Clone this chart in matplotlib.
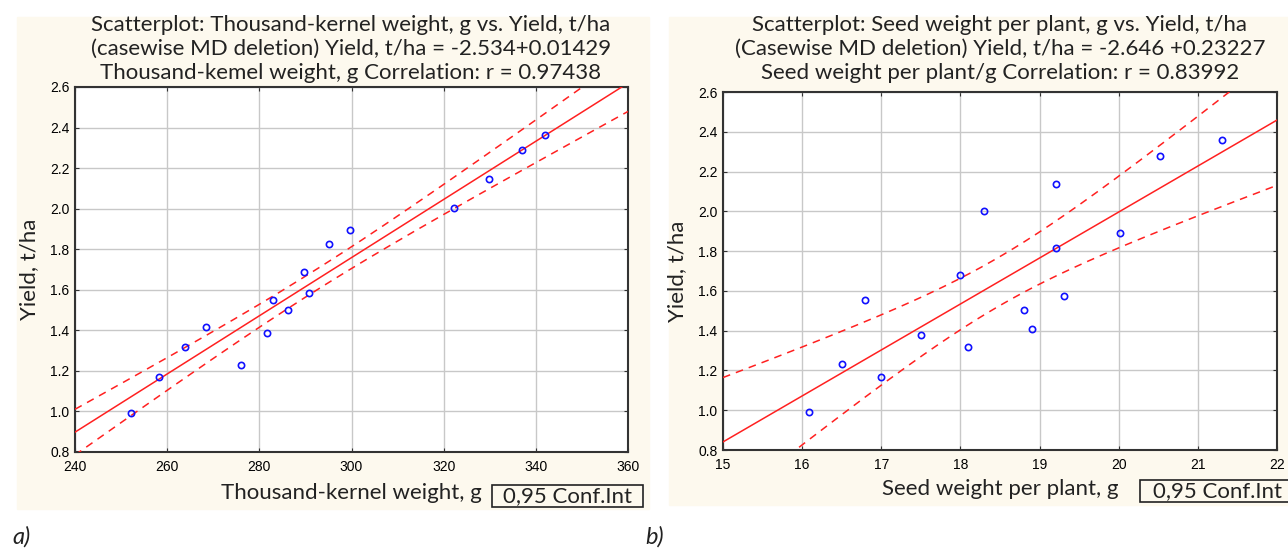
import numpy as np
import matplotlib
matplotlib.use('Agg')
from matplotlib import pyplot as plt
from matplotlib.patches import Rectangle

# data
yield_t = [0.99, 1.17, 1.32, 1.415, 1.23, 1.385, 1.55, 1.50, 1.687, 1.586,
           1.824, 1.895, 2.005, 2.145, 2.29, 2.365]
tkw_g = [252.1, 258.3, 263.8, 268.4, 276.0, 281.7, 283.0, 286.2, 289.7, 290.8,
         295.2, 299.6, 322.2, 329.8, 337.1, 342.0]

seed_yield = [0.99, 1.231, 1.552, 1.167, 1.377, 1.681, 1.317, 2.003, 1.503, 1.409,
              2.139, 1.818, 1.575, 1.89, 2.28, 2.36]
seed_w = [16.09, 16.50, 16.79, 17.00, 17.50, 18.00, 18.10, 18.30, 18.80, 18.91,
          19.21, 19.21, 19.31, 20.01, 20.52, 21.30]

titles = [
    "Scatterplot: Thousand-kernel weight, g vs. Yield, t/ha\n"
    "(casewise MD deletion) Yield, t/ha = -2.534+0.01429\n"
    "Thousand-kemel weight, g Correlation: r = 0.97438",
    "Scatterplot: Seed weight per plant, g vs. Yield, t/ha\n"
    "(Casewise MD deletion) Yield, t/ha = -2.646 +0.23227\n"
    "Seed weight per plant/g Correlation: r = 0.83992",
]
xlabels = ["Thousand-kernel weight, g", "Seed weight per plant, g"]
xticks_a = [240, 260, 280, 300, 320, 340, 360]
xticks_b = [15, 16, 17, 18, 19, 20, 21, 22]
yticks = [0.8, 1.0, 1.2, 1.4, 1.6, 1.8, 2.0, 2.2, 2.4, 2.6]

T_CRIT = 2.145  # t(0.975, 14)

FONT = ['Lato', 'DejaVu Sans']
FS = 16
W, H = 1288, 552
cream = '#fdf9ee'

fig = plt.figure(figsize=(12.88, 5.52), dpi=100)


def fx(px):
    return px / W


def fy(py):
    return 1 - py / H


# cream panels (behind the axes)
fig.patches.append(Rectangle((fx(17), fy(509)), fx(649 - 17), (509 - 17) / H,
                             transform=fig.transFigure, color=cream, zorder=-5))
fig.patches.append(Rectangle((fx(669), fy(505)), fx(1288 - 669), (505 - 17) / H,
                             transform=fig.transFigure, color=cream, zorder=-5))


def panel(rect, x, y, xticks, title, xlabel, title_x, xlab_y, box):
    ax = fig.add_axes(rect)
    x = np.array(x)
    y = np.array(y)
    n = len(x)
    b1, b0 = np.polyfit(x, y, 1)
    xs = np.linspace(xticks[0], xticks[-1], 300)
    yh = b0 + b1 * xs
    s = np.sqrt(np.sum((y - (b0 + b1 * x)) ** 2) / (n - 2))
    sxx = np.sum((x - x.mean()) ** 2)
    hw = T_CRIT * s * np.sqrt(1.0 / n + (xs - x.mean()) ** 2 / sxx)
    ax.plot(xs, yh, color='#ff2020', lw=1.1, zorder=3)
    ax.plot(xs, yh + hw, color='#ff2020', lw=1.1, ls=(0, (5, 4)), zorder=3)
    ax.plot(xs, yh - hw, color='#ff2020', lw=1.1, ls=(0, (5, 4)), zorder=3)
    ax.plot(x, y, 'o', ms=4.5, mfc='none', mec='#1010ff', mew=1.2, zorder=4)
    ax.set_xlim(xticks[0], xticks[-1])
    ax.set_ylim(0.8, 2.6)
    ax.set_xticks(xticks)
    ax.set_yticks(yticks)
    ax.set_yticklabels(['%.1f' % v for v in yticks])
    ax.grid(True, color='#c8c8c8', lw=1)
    ax.set_axisbelow(True)
    ax.tick_params(direction='in', length=3, top=True, right=True,
                   labelsize=10, color='#333333')
    ax.tick_params(axis='x', pad=6)
    ax.tick_params(axis='y', pad=4)
    for t in ax.get_xticklabels() + ax.get_yticklabels():
        t.set_family('Liberation Sans')
    for sp in ax.spines.values():
        sp.set_color('#333333')
        sp.set_linewidth(1.5)
    fig.text(fx(title_x), fy(49), title, ha='center', va='center',
             fontsize=FS, family=FONT, color='#222222', linespacing=1.22)
    fig.text(fx(title_x), fy(xlab_y), xlabel, ha='center', va='center',
             fontsize=FS, family=FONT, color='#222222')
    ax.set_ylabel('Yield, t/ha', fontsize=FS, family=FONT, color='#222222',
                  labelpad=8)
    bx0, by0, bx1, by1 = box
    fig.patches.append(Rectangle((fx(bx0), fy(by1)), fx(bx1 - bx0), (by1 - by0) / H,
                                 transform=fig.transFigure, facecolor=cream,
                                 edgecolor='#222222', lw=1.2, zorder=1))
    fig.text(fx((bx0 + bx1) / 2), fy((by0 + by1) / 2), '0,95 Conf.Int',
             ha='center', va='center', fontsize=FS, family=FONT,
             color='#222222', zorder=2)
    return ax


panel([fx(75), fy(452), fx(628 - 75), (452 - 87) / H], tkw_g, yield_t, xticks_a,
      titles[0], xlabels[0], 351, 493, (492, 485, 643, 507))
panel([fx(723), fy(450), fx(1277 - 723), (450 - 92) / H], seed_w, seed_yield, xticks_b,
      titles[1], xlabels[1], 1000, 489, (1140, 480, 1295, 502))

fig.text(fx(12), fy(537), 'a)', ha='left', va='center', fontsize=17,
         family=FONT, style='italic', color='#222222')
fig.text(fx(645), fy(537), 'b)', ha='left', va='center', fontsize=17,
         family=FONT, style='italic', color='#222222')

fig.savefig('out.png', dpi=100)
